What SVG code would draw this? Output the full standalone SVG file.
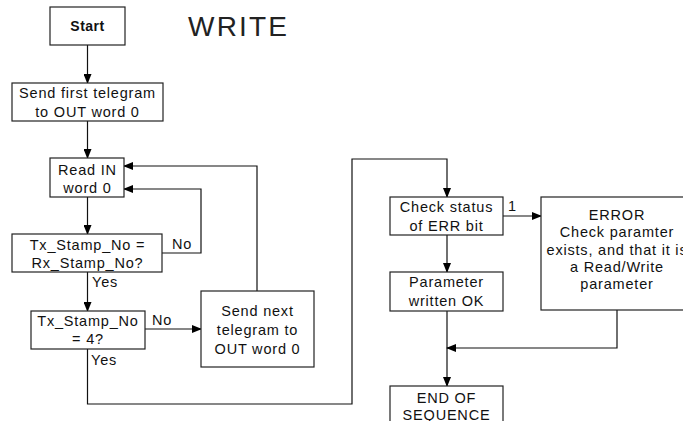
<svg xmlns="http://www.w3.org/2000/svg" width="683" height="421" viewBox="0 0 683 421">
<defs>
<marker id="ah" markerWidth="10" markerHeight="8" refX="9" refY="4" orient="auto" markerUnits="userSpaceOnUse">
<path d="M0,0 L10,4 L0,8 Z" fill="#000"/>
</marker>
<style>
.box{fill:#fff;stroke:#222;stroke-width:1.2}
.t{font-family:"Liberation Sans",Arial,sans-serif;font-size:14.5px;letter-spacing:0.8px;fill:#111;text-anchor:middle}
.l{font-family:"Liberation Sans",Arial,sans-serif;font-size:14.5px;letter-spacing:0.8px;fill:#111}
.ca{fill:none;stroke:#111;stroke-width:1.2;marker-end:url(#ah)}
</style>
</defs>
<rect width="683" height="421" fill="#fff"/>
<text x="188" y="36" style="font-family:'Liberation Sans',Arial,sans-serif;font-size:28px;letter-spacing:2.2px;fill:#222">WRITE</text>
<g id="connectors">
<path class="ca" d="M87.5,45 V83"/>
<path class="ca" d="M87.5,121 V158"/>
<path class="ca" d="M87.5,197 V234"/>
<path class="ca" d="M162,253 H201 V189 H124"/>
<path class="ca" d="M87.5,272 V311"/>
<path class="ca" d="M145,329 H201"/>
<path class="ca" d="M257,291 V166 H124"/>
<path class="ca" d="M87.5,349 V404 H352 V159 H447 V197"/>
<path class="ca" d="M503,216 H541"/>
<path class="ca" d="M447,235 V272"/>
<path class="ca" d="M447,311 V386"/>
<path class="ca" d="M617,310 V348 H447"/>
</g>
<g id="labels">
<text class="l" x="172" y="249">No</text>
<text class="l" x="92" y="287">Yes</text>
<text class="l" x="152" y="325">No</text>
<text class="l" x="91" y="365">Yes</text>
<text class="l" x="508" y="211">1</text>
</g>
<g id="start">
<rect class="box" x="50" y="7" width="75" height="38"/>
<text x="87.5" y="31" style="font-family:'Liberation Sans',Arial,sans-serif;font-size:14px;font-weight:bold;letter-spacing:0.5px;fill:#111;text-anchor:middle">Start</text>
</g>
<g id="send-first">
<rect class="box" x="12" y="83" width="151" height="38"/>
<text class="t" x="87.5" y="98">Send first telegram</text>
<text class="t" x="87.5" y="117">to OUT word 0</text>
</g>
<g id="read-in">
<rect class="box" x="50" y="158" width="74" height="39"/>
<text class="t" x="87.5" y="174.5">Read IN</text>
<text class="t" x="87.5" y="192.5">word 0</text>
</g>
<g id="tx-rx">
<rect class="box" x="12" y="234" width="150" height="38"/>
<text class="t" x="87.5" y="249.5">Tx_Stamp_No =</text>
<text class="t" x="87.5" y="267.5">Rx_Stamp_No?</text>
</g>
<g id="tx4">
<rect class="box" x="31" y="311" width="114" height="38"/>
<text class="t" x="88" y="326">Tx_Stamp_No</text>
<text class="t" x="88" y="344">= 4?</text>
</g>
<g id="send-next">
<rect class="box" x="201" y="291" width="113" height="76"/>
<text class="t" x="257.5" y="316">Send next</text>
<text class="t" x="257.5" y="335">telegram to</text>
<text class="t" x="257.5" y="354">OUT word 0</text>
</g>
<g id="check">
<rect class="box" x="390" y="197" width="113" height="38"/>
<text class="t" x="446.5" y="212">Check status</text>
<text class="t" x="446.5" y="230.5">of ERR bit</text>
</g>
<g id="param">
<rect class="box" x="390" y="272" width="113" height="39"/>
<text class="t" x="446.5" y="287">Parameter</text>
<text class="t" x="446.5" y="305.5">written OK</text>
</g>
<g id="error">
<rect class="box" x="541" y="197" width="152" height="113"/>
<text class="t" x="617" y="220">ERROR</text>
<text class="t" x="617" y="237">Check paramter</text>
<text class="t" x="617" y="254.5">exists, and that it is</text>
<text class="t" x="617" y="271.5">a Read/Write</text>
<text class="t" x="617" y="288.5">parameter</text>
</g>
<g id="end">
<rect class="box" x="390" y="386" width="113" height="44"/>
<text class="t" x="446.5" y="402.5">END OF</text>
<text class="t" x="446.5" y="419.5">SEQUENCE</text>
</g>
</svg>
